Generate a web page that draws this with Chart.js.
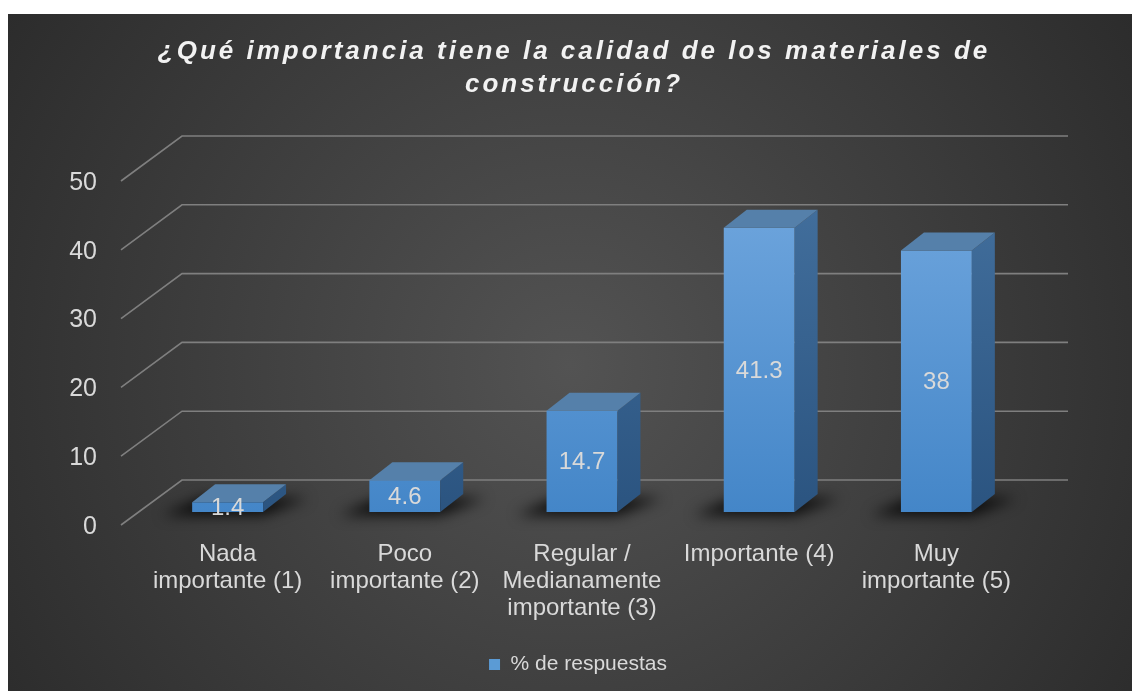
<!DOCTYPE html>
<html>
<head>
<meta charset="utf-8">
<script src="https://cdn.jsdelivr.net/npm/chart.js@4.4.1/dist/chart.umd.min.js"></script>
<style>
  html, body { margin: 0; padding: 0; background: #fff; }
  #wrap { position: absolute; left: 8px; top: 14px; width: 1124px; height: 677px; }
</style>
</head>
<body>
<div id="wrap"><canvas id="chart-area"></canvas></div>
<script>
// data
var categories = [
  ['Nada', 'importante (1)'],
  ['Poco', 'importante (2)'],
  ['Regular /', 'Medianamente', 'importante (3)'],
  'Importante (4)',
  ['Muy', 'importante (5)']
];
var respuestas = [1.4, 4.6, 14.7, 41.3, 38];
var yTicks = [0, 10, 20, 30, 40, 50];
var seriesName = '% de respuestas';
var titleLines = ['¿Qué importancia tiene la calidad de los materiales de', 'construcción?'];

var FONT = "'Liberation Sans', Arial, sans-serif";
var TEXT = '#d9d9d9';
// fake 3d offsets (px)
var BAR_DX = 23, BAR_DY = 18;
var GRID_FRONT = { dx: -18, dy: 13 }, GRID_BACK = { dx: 43, dy: -32 };

var depth3d = {
  id: 'depth3d',
  beforeDraw: function(chart) {
    var ctx = chart.ctx, w = chart.width, h = chart.height;
    var g = ctx.createRadialGradient(w * 0.5, h * 0.52, 0, w * 0.5, h * 0.52, w * 0.62);
    g.addColorStop(0, '#535353');
    g.addColorStop(1, '#2a2a2a');
    ctx.save();
    ctx.fillStyle = g;
    ctx.fillRect(0, 0, w, h);
    ctx.restore();
  },
  beforeDatasetsDraw: function(chart) {
    var ctx = chart.ctx, y = chart.scales.y, a = chart.chartArea;
    ctx.save();
    ctx.strokeStyle = '#7f7f7f';
    ctx.lineWidth = 1.6;
    y.ticks.forEach(function(t) {
      var py = y.getPixelForValue(t.value);
      ctx.beginPath();
      ctx.moveTo(a.left + GRID_FRONT.dx, py + GRID_FRONT.dy);
      ctx.lineTo(a.left + GRID_BACK.dx, py + GRID_BACK.dy);
      ctx.lineTo(a.right + GRID_BACK.dx, py + GRID_BACK.dy);
      ctx.stroke();
    });
    // soft shadows on the floor
    ctx.filter = 'blur(7px)';
    ctx.fillStyle = 'rgba(0,0,0,0.85)';
    chart.getDatasetMeta(0).data.forEach(function(bar) {
      var p = bar.getProps(['x', 'width', 'base'], true);
      var L = p.x - p.width / 2, R = p.x + p.width / 2, b = p.base;
      ctx.beginPath();
      ctx.moveTo(L - 30, b + 3);
      ctx.lineTo(R, b + 3);
      ctx.lineTo(R + BAR_DX + 22, b - 14);
      ctx.lineTo(L + 10, b - 14);
      ctx.closePath();
      ctx.fill();
    });
    ctx.restore();
  },
  afterDatasetsDraw: function(chart) {
    var ctx = chart.ctx, a = chart.chartArea;
    ctx.save();
    chart.getDatasetMeta(0).data.forEach(function(bar, i) {
      var p = bar.getProps(['x', 'y', 'width', 'base'], true);
      var L = p.x - p.width / 2, R = p.x + p.width / 2, top = p.y, b = p.base;
      // side face
      var sg = ctx.createLinearGradient(0, a.top, 0, a.bottom);
      sg.addColorStop(0, '#44719f');
      sg.addColorStop(1, '#2b5480');
      ctx.fillStyle = sg;
      ctx.beginPath();
      ctx.moveTo(R, top);
      ctx.lineTo(R + BAR_DX, top - BAR_DY);
      ctx.lineTo(R + BAR_DX, b - BAR_DY);
      ctx.lineTo(R, b);
      ctx.closePath();
      ctx.fill();
      // top face
      ctx.fillStyle = '#5580aa';
      ctx.beginPath();
      ctx.moveTo(L, top);
      ctx.lineTo(L + BAR_DX, top - BAR_DY);
      ctx.lineTo(R + BAR_DX, top - BAR_DY);
      ctx.lineTo(R, top);
      ctx.closePath();
      ctx.fill();
      // value label
      ctx.fillStyle = TEXT;
      ctx.font = '24px ' + FONT;
      ctx.textAlign = 'center';
      ctx.textBaseline = 'middle';
      ctx.fillText(String(respuestas[i]), p.x, (top + b) / 2 + 1);
    });
    ctx.restore();
  },
  afterDraw: function(chart) {
    var ctx = chart.ctx;
    ctx.save();
    ctx.fillStyle = '#f2f2f2';
    ctx.font = 'italic bold 26px ' + FONT;
    ctx.letterSpacing = '3px';
    ctx.textAlign = 'center';
    ctx.textBaseline = 'middle';
    ctx.fillText(titleLines[0], chart.width / 2 + 4, 38);
    ctx.fillText(titleLines[1], chart.width / 2 + 4, 71);
    ctx.restore();
  }
};

new Chart(document.getElementById('chart-area'), {
  type: 'bar',
  data: {
    labels: categories,
    datasets: [{
      label: seriesName,
      data: respuestas,
      backgroundColor: function(c) {
        var a = c.chart.chartArea;
        if (!a) return '#5b9bd5';
        var g = c.chart.ctx.createLinearGradient(0, a.top, 0, a.bottom);
        g.addColorStop(0, '#72a8df');
        g.addColorStop(1, '#4486c8');
        return g;
      },
      borderWidth: 0,
      categoryPercentage: 1,
      barPercentage: 0.4
    }]
  },
  options: {
    responsive: true,
    maintainAspectRatio: false,
    animation: false,
    layout: { padding: { top: 154, right: 0, bottom: 6, left: 16 } },
    scales: {
      x: {
        grid: { display: false, drawTicks: false },
        border: { display: false },
        ticks: {
          color: TEXT,
          font: { family: FONT, size: 24, lineHeight: 1.125 },
          padding: 29,
          autoSkip: false,
          maxRotation: 0
        },
        afterFit: function(scale) { scale.height = 132; }
      },
      y: {
        min: yTicks[0],
        max: yTicks[yTicks.length - 1],
        grid: { display: false, drawTicks: false },
        border: { display: false },
        ticks: {
          stepSize: yTicks[1] - yTicks[0],
          color: TEXT,
          font: { family: FONT, size: 25 },
          padding: 42,
          labelOffset: 15
        },
        afterFit: function(scale) { scale.width = 115; }
      },
      // empty right-hand space that holds the back wall depth
      depthSpace: {
        type: 'linear',
        position: 'right',
        grid: { display: false, drawTicks: false },
        border: { display: false },
        ticks: { display: false },
        afterFit: function(scale) { scale.width = 107; }
      }
    },
    plugins: {
      title: { display: false },
      tooltip: { enabled: false },
      legend: {
        position: 'bottom',
        labels: {
          color: TEXT,
          font: { family: FONT, size: 21 },
          boxWidth: 11,
          boxHeight: 11,
          padding: 10,
          generateLabels: function(chart) {
            var items = Chart.defaults.plugins.legend.labels.generateLabels(chart);
            items.forEach(function(it) {
              it.fillStyle = '#5b9bd5';
              it.strokeStyle = '#5b9bd5';
              it.lineWidth = 0;
            });
            return items;
          }
        }
      }
    }
  },
  plugins: [depth3d]
});
</script>
</body>
</html>
